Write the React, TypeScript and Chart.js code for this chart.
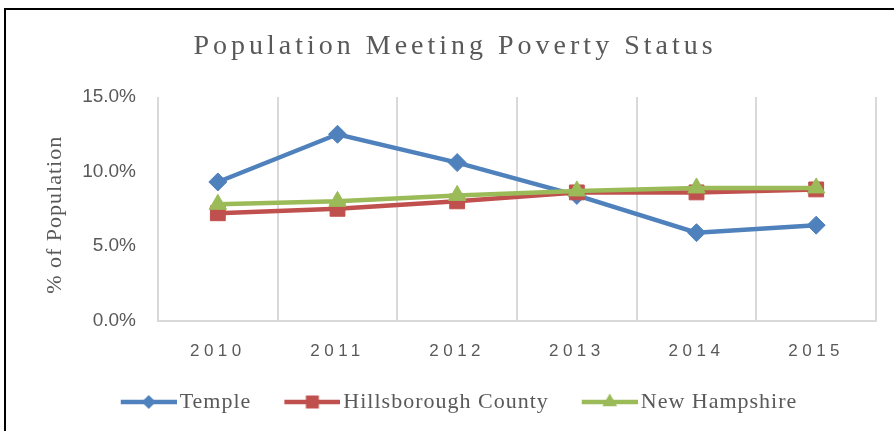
import React, { useEffect, useRef } from 'react';
import { Chart, registerables } from 'chart.js';

Chart.register(...registerables);

const TITLE = 'Population Meeting Poverty Status';
const Y_TITLE = '% of Population';
const YEARS = ['2010', '2011', '2012', '2013', '2014', '2015'];
const SERIES_NAMES = ['Temple', 'Hillsborough County', 'New Hampshire'];
const TEMPLE = [9.3, 12.5, 10.6, 8.4, 5.9, 6.4];
const HILLSBOROUGH = [7.2, 7.5, 8.0, 8.6, 8.6, 8.8];
const NEW_HAMPSHIRE = [7.8, 8.0, 8.4, 8.7, 8.9, 8.9];
const Y_TICKS = [0, 5, 10, 15];

const COLORS = ['#4F81BD', '#C0504D', '#9BBB59'];
const STYLES = ['rectRot', 'rect', 'triangle'];
const RADII = [9, 10.5, 10];
const TEXT_COLOR = '#595959';
const GRID_COLOR = '#d9d9d9';

function legendImage(color: string, style: string): HTMLCanvasElement {
  const W = 68;
  const H = 24;
  const c = document.createElement('canvas');
  c.width = W;
  c.height = H;
  const ctx = c.getContext('2d')!;
  const x0 = 12;
  const x1 = 68;
  const cy = H / 2;
  const cx = (x0 + x1) / 2;
  ctx.strokeStyle = color;
  ctx.lineWidth = 4.5;
  ctx.beginPath();
  ctx.moveTo(x0, cy);
  ctx.lineTo(x1, cy);
  ctx.stroke();
  ctx.fillStyle = color;
  ctx.beginPath();
  if (style === 'rectRot') {
    const r = 7;
    ctx.moveTo(cx, cy - r);
    ctx.lineTo(cx + r, cy);
    ctx.lineTo(cx, cy + r);
    ctx.lineTo(cx - r, cy);
    ctx.closePath();
  } else if (style === 'rect') {
    const s = 6.5;
    ctx.rect(cx - s, cy - s, 2 * s, 2 * s);
  } else {
    const r = 8.5;
    ctx.moveTo(cx, cy - r);
    ctx.lineTo(cx + 0.866 * r, cy + 0.5 * r);
    ctx.lineTo(cx - 0.866 * r, cy + 0.5 * r);
    ctx.closePath();
  }
  ctx.fill();
  return c;
}

const letterSpacingPlugin = {
  id: 'letterSpacingPlugin',
  beforeDraw(chart: any) {
    const ctx = chart.ctx;
    const wrap = (obj: any, key: string, sp: string, dx = 0, dy = 0) => {
      if (!obj) return;
      obj.__ls = obj.__ls || {};
      if (obj.__ls[key]) return;
      const orig = obj[key];
      obj[key] = function (...args: any[]) {
        ctx.save();
        ctx.translate(dx, dy);
        ctx.letterSpacing = sp;
        try {
          return orig.apply(this, args);
        } finally {
          ctx.restore();
        }
      };
      obj.__ls[key] = true;
    };
    wrap(chart.titleBlock, 'draw', '4px', 17, 0);
    wrap(chart.scales.x, 'drawLabels', '4.5px');
    wrap(chart.scales.y, 'drawTitle', '1px', 0, 6);
    wrap(chart.legend, 'draw', '1px');
  },
};

export default function App() {
  const ref = useRef<HTMLCanvasElement>(null);

  useEffect(() => {
    const canvas = ref.current;
    if (!canvas) return;
    const imgs = SERIES_NAMES.map((_, i) => legendImage(COLORS[i], STYLES[i]));
    const seriesData = [TEMPLE, HILLSBOROUGH, NEW_HAMPSHIRE];

    const chart = new Chart(canvas, {
      type: 'line',
      data: {
        labels: YEARS,
        datasets: SERIES_NAMES.map((name, i) => ({
          label: name,
          data: seriesData[i],
          borderColor: COLORS[i],
          backgroundColor: COLORS[i],
          borderWidth: 4.5,
          tension: 0,
          pointStyle: STYLES[i] as any,
          pointRadius: RADII[i],
          pointBorderWidth: 1,
          pointBorderColor: COLORS[i],
          pointBackgroundColor: COLORS[i],
          order: 2 - i,
        })),
      },
      options: {
        responsive: false,
        animation: false,
        events: [],
        layout: { padding: { left: 0, right: 18, top: 0, bottom: 8 } },
        scales: {
          x: {
            type: 'category',
            offset: true,
            afterFit: (s: any) => {
              s.height = 41.4;
            },
            grid: { offset: true, color: GRID_COLOR, lineWidth: 2, drawTicks: false },
            border: { display: true, color: GRID_COLOR, width: 2 },
            ticks: {
              padding: 21,
              color: TEXT_COLOR,
              maxRotation: 0,
              font: { family: 'Liberation Sans', size: 17 },
            },
          },
          y: {
            min: 0,
            max: 15,
            afterBuildTicks: (s: any) => {
              s.ticks = Y_TICKS.map((v) => ({ value: v }));
            },
            afterFit: (s: any) => {
              s.width = 158;
            },
            grid: { display: false, drawTicks: false },
            border: { display: false },
            ticks: {
              padding: 22,
              color: TEXT_COLOR,
              font: { family: 'Liberation Sans', size: 19 },
              callback: (v: any) => Number(v).toFixed(1) + '%',
            },
            title: {
              display: true,
              text: Y_TITLE,
              color: TEXT_COLOR,
              font: { family: 'Liberation Serif', size: 22 },
              padding: { top: 42, bottom: 0 },
            },
          },
        },
        plugins: {
          tooltip: { enabled: false },
          title: {
            display: true,
            text: TITLE,
            color: TEXT_COLOR,
            font: { family: 'Liberation Serif', size: 28, weight: 'normal', lineHeight: 1.2 },
            padding: { top: 30, bottom: 33.4 },
          },
          legend: {
            display: true,
            position: 'bottom',
            labels: {
              usePointStyle: true,
              pointStyleWidth: 52,
              padding: 29,
              color: TEXT_COLOR,
              font: { family: 'Liberation Serif', size: 22 },
              generateLabels: (ch: any) =>
                ch.data.datasets.map((ds: any, i: number) => ({
                  text: ds.label,
                  fillStyle: COLORS[i],
                  strokeStyle: COLORS[i],
                  lineWidth: 0,
                  pointStyle: imgs[i],
                  hidden: false,
                  datasetIndex: i,
                  fontColor: TEXT_COLOR,
                })),
            },
          },
        },
      },
      plugins: [letterSpacingPlugin],
    } as any);

    return () => chart.destroy();
  }, []);

  return (
    <div
      style={{
        position: 'fixed',
        left: 0,
        top: 0,
        width: 894,
        height: 431,
        background: '#fff',
        overflow: 'hidden',
      }}
    >
      <div
        style={{
          position: 'absolute',
          left: 4,
          top: 8,
          width: 1000,
          height: 1000,
          border: '2px solid #000',
          boxSizing: 'border-box',
        }}
      />
      <canvas
        ref={ref}
        width={894}
        height={431}
        style={{ position: 'absolute', left: 0, top: 0, display: 'block' }}
      />
    </div>
  );
}
